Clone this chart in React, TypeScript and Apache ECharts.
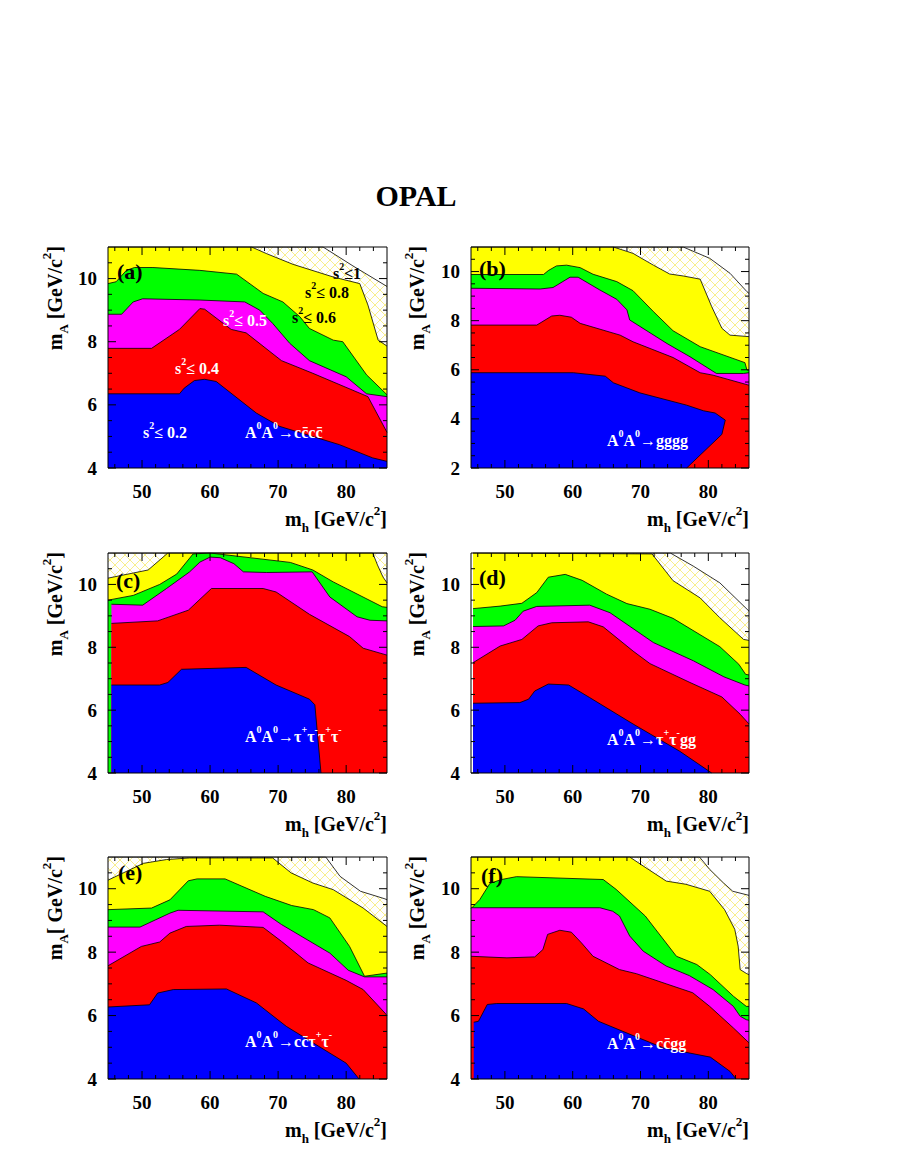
import React, { useEffect, useRef } from "react";
import * as echarts from "echarts";

const FONT = "'Liberation Serif', 'Times New Roman', Times, serif";

// ---------- axes ----------
const xRange = [45, 86];
const xMajorTicks = [50, 60, 70, 80];
const xMinorTicks = [46, 48, 52, 54, 56, 58, 62, 64, 66, 68, 72, 74, 76, 78, 82, 84];
const yRangeStd = [4, 11];
const yRangeB = [2, 11];
const yMajorStd = [4, 6, 8, 10];
const yMajorB = [2, 4, 6, 8, 10];
const yMinorStd = [4.5, 5, 5.5, 6.5, 7, 7.5, 8.5, 9, 9.5, 10.5];
const yMinorB = [2.5, 3, 3.5, 4.5, 5, 5.5, 6.5, 7, 7.5, 8.5, 9, 9.5, 10.5];

// ---------- panel (a): A0A0 -> c cbar c cbar ----------
const aHatch = [[45, 11], [76.6, 11], [81, 10.4], [86, 9.75]];
const aYellow = [[45, 11], [66.1, 11], [68.3, 10.79], [72.2, 10.45], [78.1, 10.05], [82, 9.84], [83.2, 9.16], [84.7, 8.05], [86, 7.86]];
const aGreen = [[45, 9.84], [46.2, 9.9], [47.7, 10.26], [48.9, 10.35], [51.6, 10.35], [58.5, 10.26], [63.9, 10.14], [67.8, 9.53], [70.7, 9.26], [73.2, 8.79], [74.6, 8.42], [78.1, 8.05], [79.5, 8.0], [83, 6.95], [86, 6.32]];
const aMagenta = [[45, 8.87], [47, 8.87], [48.7, 9.26], [50.1, 9.36], [58.5, 9.32], [65.1, 9.26], [67.3, 9.0], [69.2, 8.58], [71.7, 7.95], [74.6, 7.4], [80, 6.89], [83, 6.35], [86, 6.26]];
const aRed = [[45, 7.79], [51.4, 7.79], [55.5, 8.39], [58.5, 9.05], [59.2, 9.03], [63.1, 8.39], [65.3, 8.28], [70.5, 7.4], [75.1, 7.0], [83.2, 6.26], [86, 5.13]];
const aBlue = [[45, 6.35], [55.5, 6.35], [56.2, 6.53], [57.7, 6.77], [59.2, 6.81], [60.9, 6.74], [66.8, 5.74], [70.2, 5.32], [79, 4.74], [83.9, 4.32], [86, 4.21]];

// ---------- panel (b): A0A0 -> gggg ----------
const bHatch = [[45, 11], [76.3, 11], [80.2, 10.54], [83.2, 9.93], [85.7, 9.18], [86, 9.11]];
const bYellow = [[45, 11], [66, 11], [68.9, 10.74], [71.9, 10.26], [74.3, 9.9], [76.3, 9.82], [78.8, 9.69], [80.5, 8.57], [82, 7.69], [83.2, 7.41], [86, 7.35]];
const bGreen = [[45, 9.88], [55.7, 9.88], [56.4, 10.04], [57.6, 10.23], [59.1, 10.26], [61.1, 10.16], [63, 9.89], [66.5, 9.59], [68.9, 9.22], [71.9, 8.37], [74.8, 7.59], [78.8, 6.94], [85.4, 6.29], [85.7, 5.99], [86, 5.99]];
const bMagenta = [[45, 9.32], [55.2, 9.29], [57.1, 9.35], [59.6, 9.77], [60.8, 9.77], [64, 9.25], [66.5, 8.87], [68, 8.44], [68.4, 8.03], [73.9, 7.07], [77.3, 6.53], [81.2, 5.85], [85.2, 5.85], [86, 5.88]];
const bRed = [[45, 7.82], [54.7, 7.82], [56.9, 8.19], [58.1, 8.22], [59.8, 8.14], [61.1, 7.89], [67, 7.41], [68.9, 7.14], [74.8, 6.5], [78.8, 5.88], [80.7, 5.78], [86, 5.37]];
const bBlue = [[45, 5.88], [60.1, 5.88], [64.8, 5.74], [66, 5.47], [69.9, 5.06], [76.8, 4.56], [79.3, 4.33], [81, 4.24], [82.5, 3.95], [82, 3.37], [76.8, 2]];

// ---------- panel (c): A0A0 -> tau tau tau tau ----------
const cHatch = [[45, 11], [86, 11]];
const cYellow = [[45, 10.2], [50.9, 10.46], [53.8, 11], [83.9, 11], [84.6, 10.62], [85.4, 10.24], [86, 10.05]];
const cGreen = [[45, 9.5], [48.7, 9.65], [52.6, 10.0], [55.1, 10.33], [57.5, 10.97], [60, 11], [71.8, 10.7], [75.1, 10.46], [78.1, 10.08], [85.3, 9.29], [86, 9.27]];
const cMagenta = [[45.5, 9.37], [50.1, 9.34], [53.6, 9.87], [57, 10.4], [58.5, 10.71], [60, 10.87], [61.5, 10.85], [63.5, 10.66], [64.9, 10.4], [68.3, 10.38], [75, 10.4], [77.6, 9.6], [81.6, 8.97], [83.5, 8.86], [86, 8.84]];
const cRed = [[45.5, 8.76], [52.3, 8.84], [56.8, 9.18], [60.2, 9.87], [67.8, 9.87], [69.7, 9.76], [74.6, 9.05], [80.5, 8.34], [82.5, 7.97], [86, 7.75]];
const cBlue = [[45.5, 6.8], [52.6, 6.8], [53.8, 6.88], [55.8, 7.3], [65.3, 7.36], [69.7, 6.8], [74.6, 6.35], [75.4, 6.17], [76.3, 4]];

// ---------- panel (d): A0A0 -> tau tau g g ----------
const dHatch = [[45.3, 11], [74.4, 11], [77.8, 10.58], [81.7, 10.05], [86, 9.15]];
const dYellow = [[45.3, 11], [71.7, 10.97], [74.8, 10.12], [78.8, 9.57], [81.7, 8.94], [85.2, 8.25], [86, 8.22]];
const dGreen = [[45.3, 9.23], [49.3, 9.31], [52.5, 9.4], [54.7, 9.74], [56.4, 10.23], [58.9, 10.32], [61.4, 10.13], [65, 9.69], [68, 9.39], [71.4, 9.21], [74.8, 8.92], [81.7, 8.02], [84.5, 7.46], [85.5, 7.14], [86, 7.12]];
const dMagenta = [[45.3, 8.66], [49.8, 8.68], [51.5, 8.86], [52.7, 9.15], [54.7, 9.3], [62.5, 9.34], [65.5, 9.1], [71.9, 8.15], [77.8, 7.57], [82.3, 7.06], [85.4, 6.8], [86, 6.77]];
const dRed = [[45.3, 7.51], [49.3, 8.04], [52.5, 8.25], [54.9, 8.68], [56.9, 8.78], [62.3, 8.81], [64.5, 8.65], [68.9, 7.88], [71.4, 7.48], [77.3, 6.88], [82, 6.42], [84.7, 5.87], [86, 5.56]];
const dBlue = [[45.3, 6.22], [52.2, 6.24], [53.5, 6.35], [54.4, 6.61], [56.4, 6.83], [59.4, 6.8], [62.5, 6.4], [68.9, 5.56], [75.8, 4.69], [80.5, 4]];

// ---------- panel (e): A0A0 -> c cbar tau tau ----------
const eHatch = [[45, 11], [77, 11], [79.1, 10.39], [82.1, 9.92], [85.7, 9.68], [86, 9.65]];
const eYellow = [[45, 10.27], [50.2, 10.8], [53.6, 10.92], [57, 10.97], [69.2, 10.97], [71.9, 10.5], [75.1, 10.18], [78.1, 9.97], [82.5, 9.39], [86, 8.81]];
const eGreen = [[45, 9.34], [51.4, 9.39], [54.1, 9.65], [56.8, 10.25], [58.1, 10.31], [62.2, 10.31], [68.1, 9.76], [72, 9.47], [75.2, 9.34], [77.6, 9.08], [80.5, 8.18], [82.7, 7.24], [86, 7.34]];
const eMagenta = [[45, 8.79], [49.7, 8.79], [54.1, 9.23], [55.3, 9.32], [67.8, 9.27], [70.5, 8.87], [77.6, 7.97], [80.3, 7.43], [82.7, 7.22], [86, 7.22]];
const eRed = [[45, 7.57], [49.9, 8.18], [52.6, 8.32], [54.1, 8.6], [56.5, 8.81], [61.4, 8.85], [67.8, 8.78], [70.5, 8.34], [74.4, 7.66], [80, 7.11], [82.5, 6.82], [85.7, 6.08], [86, 6.0]];
const eBlue = [[45, 6.27], [51.1, 6.34], [52.3, 6.71], [54.6, 6.82], [62.4, 6.84], [66.8, 6.4], [71.2, 5.66], [80, 4.5], [81.9, 4]];

// ---------- panel (f): A0A0 -> c cbar g g ----------
const fHatch = [[45, 11], [78.7, 11], [80.2, 10.61], [82.2, 10.19], [83.6, 9.92], [86, 9.79]];
const fYellow = [[45, 11], [68.4, 11], [70.8, 10.66], [73.8, 10.24], [76.7, 10.14], [80.2, 9.92], [82.4, 9.34], [83.9, 8.72], [84.4, 8.19], [84.7, 7.45], [85.6, 7.33], [86, 7.29]];
const fGreen = [[45, 9.37], [46.3, 9.66], [47.8, 10.17], [49.5, 10.29], [51.7, 10.38], [64.5, 10.29], [66.4, 9.98], [70.7, 9.14], [75.3, 7.87], [78.3, 7.61], [80.3, 7.29], [83.7, 6.61], [85.6, 6.29], [86, 6.29]];
const fMagenta = [[45, 9.4], [64, 9.4], [65.9, 9.29], [66.9, 9.14], [68.4, 8.51], [70.4, 8.03], [73.8, 7.56], [77.2, 7.26], [80.7, 6.82], [83.7, 6.29], [84.7, 5.98], [85.6, 5.87], [86, 5.85]];
const fRed = [[45, 7.87], [50.3, 7.82], [54.4, 7.85], [55.6, 8.08], [56.3, 8.56], [58.1, 8.69], [59.8, 8.63], [61.3, 8.29], [63, 7.87], [66.9, 7.45], [69.4, 7.32], [73.8, 7.0], [77.7, 6.72], [80.2, 6.29], [83.7, 5.61], [86, 5.14]];
const fBlue = [[45.4, 5.79], [46.1, 5.82], [47.4, 6.35], [48.8, 6.38], [59.1, 6.38], [61.6, 6.21], [63.8, 5.82], [68.9, 5.37], [73.4, 4.98], [80.3, 4.69], [83.2, 4.24], [84.1, 4]];

// ---------- texts ----------
const panelTags = ["(a)", "(b)", "(c)", "(d)", "(e)", "(f)"];
const decayTexts = [
  "{m|A}{sup|0}{m|A}{sup|0}{m|\u2192cc\u0304cc\u0304}",
  "{m|A}{sup|0}{m|A}{sup|0}{m|\u2192gggg}",
  "{m|A}{sup|0}{m|A}{sup|0}{m|\u2192\u03c4}{sup|+}{m|\u03c4}{sup|-}{m|\u03c4}{sup|+}{m|\u03c4}{sup|-}",
  "{m|A}{sup|0}{m|A}{sup|0}{m|\u2192\u03c4}{sup|+}{m|\u03c4}{sup|-}{m|gg}",
  "{m|A}{sup|0}{m|A}{sup|0}{m|\u2192cc\u0304\u03c4}{sup|+}{m|\u03c4}{sup|-}",
  "{m|A}{sup|0}{m|A}{sup|0}{m|\u2192cc\u0304gg}",
];
const s2Texts = ["\u2264 0.2", "\u2264 0.4", "\u2264 0.5", "\u2264 0.6", "\u2264 0.8", "\u22641"];
const titleText = "OPAL";
const xTitle = "{m|m}{sub|h}{m| [GeV/c}{sup|2}{m|]}";
const yTitle = "{m|m}{sub|A}{m| [GeV/c}{sup|2}{m|]}";
const yTitleE = "{m|m}{sub|A}{m|[ GeV/c}{sup|2}{m|]}";

// ---------- layout ----------
const gridBoxes = [
  { left: 108, top: 247, width: 279, height: 221 },
  { left: 471, top: 247, width: 278, height: 221 },
  { left: 108, top: 553, width: 279, height: 220 },
  { left: 471, top: 553, width: 278, height: 220 },
  { left: 108, top: 857, width: 279, height: 222 },
  { left: 471, top: 857, width: 278, height: 222 },
];

const LAYER_COLORS = ["#ffffff", "#ffff00", "#00ff00", "#ff00ff", "#ff0000", "#0000ff"];

function hatchPattern() {
  const size = 10;
  const c = document.createElement("canvas");
  c.width = size;
  c.height = size;
  const g = c.getContext("2d");
  if (g) {
    g.imageSmoothingEnabled = false;
    g.fillStyle = "#ffffff";
    g.fillRect(0, 0, size, size);
    // pixel-exact diagonal crosshatch in light yellow
    g.fillStyle = "#f8ee8c";
    for (let p = 0; p < size; p++) {
      g.fillRect(p, p, 1, 1);
      g.fillRect(size - 1 - p, p, 1, 1);
    }
  }
  return { image: c.toDataURL(), repeat: "repeat", imageWidth: size, imageHeight: size };
}

function rich(fill: string, size: number) {
  return {
    m: { fill, fontSize: size, fontWeight: "bold", fontFamily: FONT, lineHeight: Math.round(size * 1.5) },
    sup: { fill, fontSize: Math.round(size * 0.65), fontWeight: "bold", fontFamily: FONT, verticalAlign: "top", lineHeight: Math.round(size * 0.8) },
    sub: { fill, fontSize: Math.round(size * 0.65), fontWeight: "bold", fontFamily: FONT, verticalAlign: "bottom", lineHeight: Math.round(size * 0.8) },
  };
}

function richText(x: number, y: number, text: string, fill: string, size: number, align = "left", rotation = 0) {
  return {
    type: "text",
    x,
    y,
    rotation,
    z: 100,
    silent: true,
    style: { text, rich: rich(fill, size), align, verticalAlign: "middle", fill },
  };
}

function s2(x: number, y: number, rest: string, fill: string) {
  return richText(x, y, "{m|s}{sup|2}{m|" + rest + "}", fill, 16);
}

export default function App() {
  const ref = useRef<HTMLDivElement>(null);

  useEffect(() => {
    if (!ref.current) return;
    const chart = echarts.init(ref.current, undefined, { renderer: "svg" });

    const panels = [
      { layers: [aHatch, aYellow, aGreen, aMagenta, aRed, aBlue], yRange: yRangeStd, yMajor: yMajorStd, yMinor: yMinorStd },
      { layers: [bHatch, bYellow, bGreen, bMagenta, bRed, bBlue], yRange: yRangeB, yMajor: yMajorB, yMinor: yMinorB },
      { layers: [cHatch, cYellow, cGreen, cMagenta, cRed, cBlue], yRange: yRangeStd, yMajor: yMajorStd, yMinor: yMinorStd },
      { layers: [dHatch, dYellow, dGreen, dMagenta, dRed, dBlue], yRange: yRangeStd, yMajor: yMajorStd, yMinor: yMinorStd },
      { layers: [eHatch, eYellow, eGreen, eMagenta, eRed, eBlue], yRange: yRangeStd, yMajor: yMajorStd, yMinor: yMinorStd },
      { layers: [fHatch, fYellow, fGreen, fMagenta, fRed, fBlue], yRange: yRangeStd, yMajor: yMajorStd, yMinor: yMinorStd },
    ];

    const hatch = hatchPattern();
    const labelStyle = { color: "#000", fontFamily: FONT, fontWeight: "bold", fontSize: 19 };

    const xAxes: any[] = [];
    const yAxes: any[] = [];
    const series: any[] = [];

    panels.forEach((p, i) => {
      xAxes.push({
        gridIndex: i,
        type: "value",
        min: xRange[0],
        max: xRange[1],
        position: "bottom",
        splitLine: { show: false },
        axisLine: { show: false },
        axisTick: { show: false },
        axisLabel: { show: true, customValues: xMajorTicks, margin: 14, ...labelStyle },
      });
      yAxes.push({
        gridIndex: i,
        type: "value",
        min: p.yRange[0],
        max: p.yRange[1],
        position: "left",
        splitLine: { show: false },
        axisLine: { show: false },
        axisTick: { show: false },
        axisLabel: { show: true, customValues: p.yMajor, margin: 11, ...labelStyle },
      });

      p.layers.forEach((data, j) => {
        series.push({
          type: "line",
          xAxisIndex: i,
          yAxisIndex: i,
          data,
          symbol: "none",
          silent: true,
          z: 2 + j,
          lineStyle: { color: "#000", width: 0.8 },
          areaStyle: { color: j === 0 ? hatch : LAYER_COLORS[j], opacity: 1, origin: "start" },
        });
      });

      // tick marks on all four sides (major long, minor short), drawn through the axes' scales
      const xTickData = [...xMajorTicks.map((v) => [v, 1]), ...xMinorTicks.map((v) => [v, 0])];
      const yTickData = [...p.yMajor.map((v) => [v, 1]), ...p.yMinor.map((v) => [v, 0])];
      const yr = p.yRange;
      series.push({
        type: "custom",
        xAxisIndex: i,
        yAxisIndex: i,
        z: 40,
        silent: true,
        clip: false,
        data: xTickData,
        renderItem: (_params: any, api: any) => {
          const v = api.value(0);
          const len = api.value(1) ? 8 : 4;
          const b = api.coord([v, yr[0]]);
          const t = api.coord([v, yr[1]]);
          return {
            type: "group",
            children: [
              { type: "line", shape: { x1: b[0], y1: b[1], x2: b[0], y2: b[1] - len }, style: { stroke: "#000", lineWidth: 1 } },
              { type: "line", shape: { x1: t[0], y1: t[1], x2: t[0], y2: t[1] + len }, style: { stroke: "#000", lineWidth: 1 } },
            ],
          };
        },
      });
      series.push({
        type: "custom",
        xAxisIndex: i,
        yAxisIndex: i,
        z: 40,
        silent: true,
        clip: false,
        data: yTickData,
        renderItem: (_params: any, api: any) => {
          const v = api.value(0);
          const len = api.value(1) ? 8 : 4;
          const l = api.coord([xRange[0], v]);
          const r = api.coord([xRange[1], v]);
          return {
            type: "group",
            children: [
              { type: "line", shape: { x1: l[0], y1: l[1], x2: l[0] + len, y2: l[1] }, style: { stroke: "#000", lineWidth: 1 } },
              { type: "line", shape: { x1: r[0], y1: r[1], x2: r[0] - len, y2: r[1] }, style: { stroke: "#000", lineWidth: 1 } },
            ],
          };
        },
      });
    });

    const graphic: any[] = [];
    graphic.push({
      type: "text",
      x: 416,
      y: 195,
      z: 100,
      style: { text: titleText, font: `bold 30px ${FONT}`, fill: "#000", align: "center", verticalAlign: "middle" },
    });

    const tagPos = [[117, 271], [479, 268], [116, 580], [479, 577], [118, 872], [481, 875]];
    panelTags.forEach((t, i) => {
      graphic.push({
        type: "text",
        x: tagPos[i][0],
        y: tagPos[i][1],
        z: 100,
        style: { text: t, font: `bold 22px ${FONT}`, fill: "#000", align: "left", verticalAlign: "middle" },
      });
    });

    const decayPos = [[245, 432], [607, 440], [245, 736], [607, 739], [245, 1041], [607, 1043]];
    decayTexts.forEach((t, i) => graphic.push(richText(decayPos[i][0], decayPos[i][1], t, "#fff", 16)));

    // s^2 contour labels in panel (a)
    graphic.push(s2(143, 432, s2Texts[0], "#fff"));
    graphic.push(s2(175, 368, s2Texts[1], "#fff"));
    graphic.push(s2(223, 320, s2Texts[2], "#fff"));
    graphic.push(s2(292, 317, s2Texts[3], "#000"));
    graphic.push(s2(305, 292, s2Texts[4], "#000"));
    graphic.push(s2(333, 273, s2Texts[5], "#000"));

    // axis titles
    gridBoxes.forEach((g, i) => {
      graphic.push(richText(g.left + g.width, g.top + g.height + 51, xTitle, "#000", 20, "right"));
      const yx = i % 2 === 0 ? 55 : 417;
      graphic.push(richText(yx, g.top - 1, i === 4 ? yTitleE : yTitle, "#000", 20, "right", Math.PI / 2));
    });

    chart.setOption({
      animation: false,
      backgroundColor: "#ffffff",
      grid: gridBoxes.map((g) => ({
        ...g,
        show: true,
        z: 50,
        backgroundColor: "transparent",
        borderColor: "#000",
        borderWidth: 1,
      })),
      xAxis: xAxes,
      yAxis: yAxes,
      series,
      graphic,
    });

    return () => chart.dispose();
  }, []);

  return (
    <div
      ref={ref}
      style={{ position: "absolute", left: 0, top: 0, width: 899, height: 1163, background: "#fff" }}
    />
  );
}
